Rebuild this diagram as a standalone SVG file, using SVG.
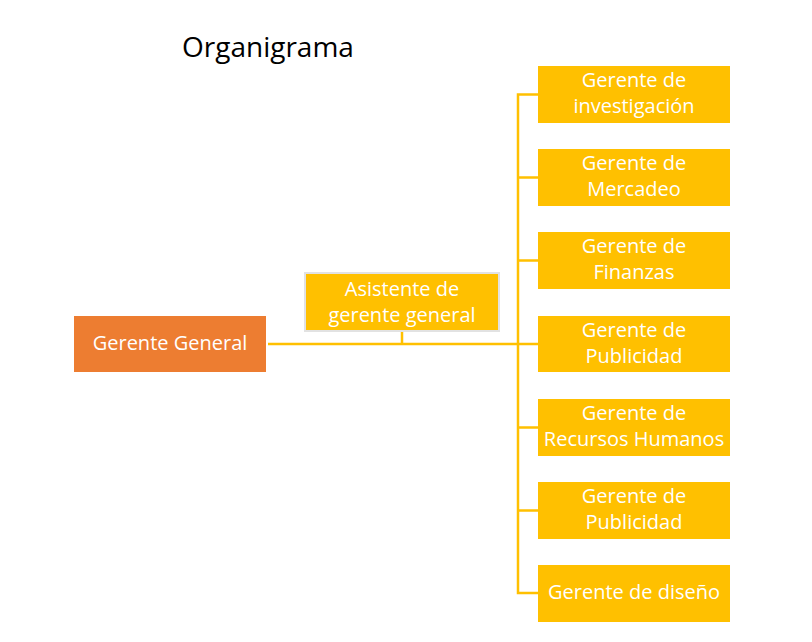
<svg xmlns="http://www.w3.org/2000/svg" width="812" height="642" viewBox="0 0 812 642">
<style>
.box{fill:#FFC000}
.lbl{font-family:"Open Sans","Noto Sans",sans-serif;font-size:20px;fill:#fff;text-anchor:middle}
.ln{stroke:#FFC000;stroke-width:2.5;fill:none}
</style>
<rect width="812" height="642" fill="#fff"/>
<text x="182" y="57" font-family="Open Sans, Noto Sans, sans-serif" font-size="28" fill="#000">Organigrama</text>
<g id="connectors">
<path class="ln" d="M268 344H518M402 332V344M538 94.5H518V593H538M518 177.5H538M518 260.5H538M518 344H538M518 427.5H538M518 510.5H538"/>
</g>
<g id="gerente-general">
<rect x="74" y="316" width="192" height="56" fill="#ED7D31"/>
<text class="lbl" x="170" y="350">Gerente General</text>
</g>
<g id="asistente">
<rect x="305" y="273" width="194" height="58" class="box" stroke="#E2E2E2" stroke-width="2"/>
<text class="lbl" x="402" y="296">Asistente de</text>
<text class="lbl" x="402" y="322">gerente general</text>
</g>
<g id="investigacion">
<rect x="538" y="66" width="192" height="57" class="box"/>
<text class="lbl" x="634" y="87">Gerente de</text>
<text class="lbl" x="634" y="113">investigación</text>
</g>
<g id="mercadeo">
<rect x="538" y="149" width="192" height="57" class="box"/>
<text class="lbl" x="634" y="170">Gerente de</text>
<text class="lbl" x="634" y="196">Mercadeo</text>
</g>
<g id="finanzas">
<rect x="538" y="232" width="192" height="57" class="box"/>
<text class="lbl" x="634" y="253">Gerente de</text>
<text class="lbl" x="634" y="279">Finanzas</text>
</g>
<g id="publicidad1">
<rect x="538" y="316" width="192" height="56" class="box"/>
<text class="lbl" x="634" y="336.5">Gerente de</text>
<text class="lbl" x="634" y="362.5">Publicidad</text>
</g>
<g id="rrhh">
<rect x="538" y="399" width="192" height="57" class="box"/>
<text class="lbl" x="634" y="420">Gerente de</text>
<text class="lbl" x="634" y="446">Recursos Humanos</text>
</g>
<g id="publicidad2">
<rect x="538" y="482" width="192" height="57" class="box"/>
<text class="lbl" x="634" y="503">Gerente de</text>
<text class="lbl" x="634" y="529">Publicidad</text>
</g>
<g id="diseno">
<rect x="538" y="565" width="192" height="57" class="box"/>
<text class="lbl" x="634" y="599">Gerente de diseño</text>
</g>
</svg>
